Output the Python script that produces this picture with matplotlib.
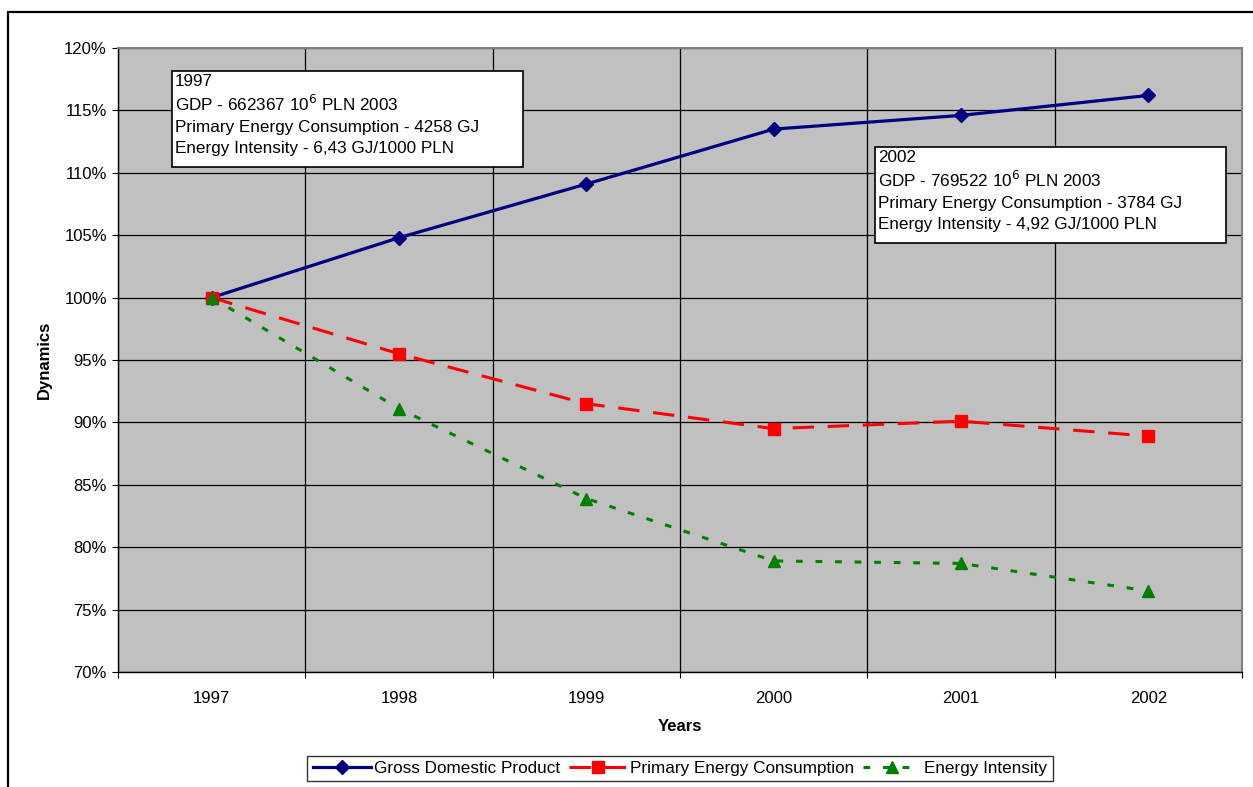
import numpy as np
import matplotlib.pyplot as plt
from matplotlib.patches import Rectangle

plt.rcParams['font.family'] = ['Liberation Sans', 'DejaVu Sans']

# data (index, 1997 = 100%)
years = ['1997', '1998', '1999', '2000', '2001', '2002']
gdp = [100.0, 104.8, 109.1, 113.5, 114.6, 116.2]
energy_consumption = [100.0, 95.5, 91.5, 89.5, 90.1, 88.9]
energy_intensity = [100.0, 91.1, 83.9, 78.9, 78.7, 76.5]

box_1997 = ['1997', 'GDP - 662367 10$^6$ PLN 2003',
            'Primary Energy Consumption - 4258 GJ',
            'Energy Intensity - 6,43 GJ/1000 PLN']
box_2002 = ['2002', 'GDP - 769522 10$^6$ PLN 2003',
            'Primary Energy Consumption - 3784 GJ',
            'Energy Intensity - 4,92 GJ/1000 PLN']


def main():
    fig = plt.figure(figsize=(12.53, 7.87), dpi=100)
    ax = fig.add_axes([118 / 1253, 1 - 672 / 787, 1124 / 1253, 624 / 787])
    ax.set_facecolor('#C0C0C0')

    # outer frame of the chart
    fig.patches.append(Rectangle((8 / 1253, -0.1), 1.2, 1.1 - 12 / 787,
                                 transform=fig.transFigure, fill=False,
                                 edgecolor='black', linewidth=1.6, zorder=0))

    x = np.arange(len(years))
    ax.plot(x, gdp, color='#000080', lw=2.3, marker='D', markersize=7,
            label='Gross Domestic Product', zorder=5)
    ax.plot(x, energy_consumption, color='#FF0000', lw=2.2, ls=(0, (7, 4.5)),
            marker='s', markersize=8.5, label='Primary Energy Consumption', zorder=6)
    ax.plot(x, energy_intensity, color='#008000', lw=2.2, ls=(0, (2.2, 4.2)),
            marker='^', markersize=8, label='Energy Intensity', zorder=7)

    ax.set_xlim(-0.5, len(years) - 0.5)
    ax.set_ylim(70, 120)
    ax.set_yticks(np.arange(70, 121, 5))
    ax.set_yticklabels([f'{v}%' for v in range(70, 121, 5)])
    ax.set_xticks(np.arange(-0.5, len(years), 1.0))
    ax.set_xticklabels([])
    ax.set_xticks(x, minor=True)
    ax.set_xticklabels(years, minor=True)
    ax.tick_params(axis='x', which='minor', length=0, pad=14, labelsize=12)
    ax.tick_params(axis='x', which='major', length=4, direction='out')
    ax.tick_params(axis='y', length=4, direction='out', pad=4, labelsize=12)

    ax.grid(True, which='major', color='black', linewidth=0.9)
    ax.set_axisbelow(True)
    for side in ['top', 'right']:
        ax.spines[side].set_color('#808080')
        ax.spines[side].set_linewidth(1.5)
    for side in ['left', 'bottom']:
        ax.spines[side].set_color('black')
        ax.spines[side].set_linewidth(1.0)

    ax.set_ylabel('Dynamics', fontsize=12, fontweight='bold', labelpad=9)
    ax.set_xlabel('Years', fontsize=12, fontweight='bold', labelpad=9)

    # info boxes
    baselines = [15, 40, 61, 82]
    for lines, (bx, by) in [(box_1997, (54, 71)), (box_2002, (757, 147))]:
        left = bx / 1124
        top = 1 - (by - 48) / 624
        ax.add_patch(Rectangle((left, top - 96 / 624), 351 / 1124, 96 / 624,
                               transform=ax.transAxes, facecolor='white',
                               edgecolor='black', linewidth=1.2, zorder=10))
        for line, b in zip(lines, baselines):
            ax.text(left + 3 / 1124, top - b / 624, line,
                    transform=ax.transAxes, fontsize=12.3, va='baseline',
                    ha='left', zorder=11)

    leg = ax.legend(loc='upper center', bbox_to_anchor=(0.5, -0.135), ncol=3,
                    fontsize=12.3, frameon=True, fancybox=False, edgecolor='black',
                    handlelength=3.4, handletextpad=0.2, columnspacing=0.5,
                    borderpad=0.3, borderaxespad=0)
    leg.get_frame().set_linewidth(1.0)

    fig.savefig('out.png', dpi=100)


if __name__ == "__main__":
    main()
